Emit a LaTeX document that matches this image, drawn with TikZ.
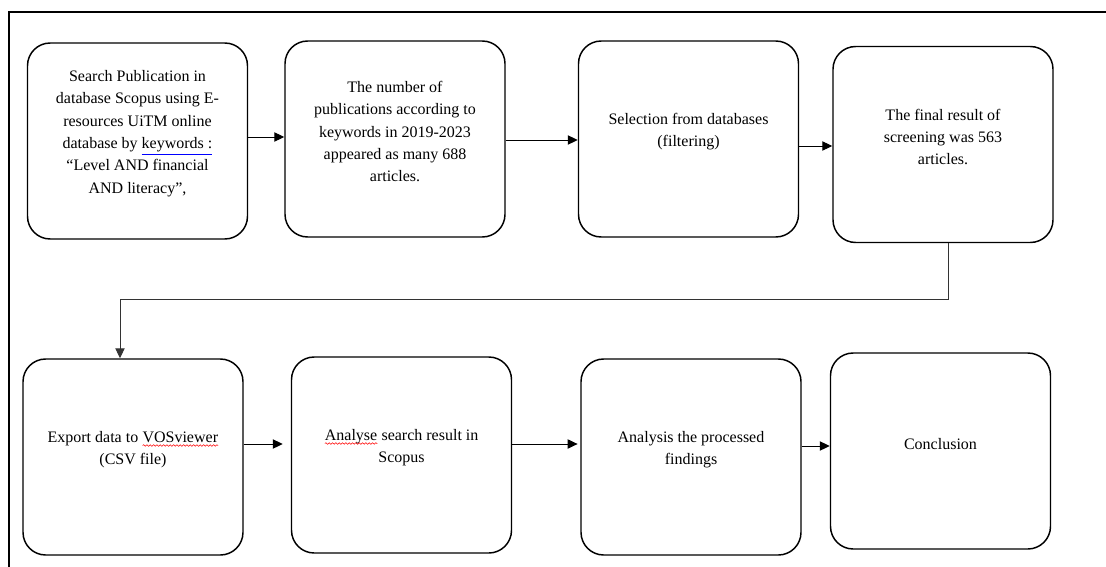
\documentclass[tikz,border=0pt]{standalone}
\usepackage{fontspec}
\setmainfont{Liberation Serif}
\usetikzlibrary{arrows.meta, decorations.pathmorphing}
\newcommand\blueline[1]{\textcolor{blue}{\underline{\textcolor{black}{#1}}}}
\newcommand\redwave[1]{\tikz[baseline=(w.base), x=1cm, y=1cm]{%
  \node[inner sep=0pt, outer sep=0pt] (w) {#1};
  \draw[red, line width=0.4pt, decorate,
    decoration={snake, amplitude=0.6pt, segment length=2.5pt}]
    ([yshift=-2.5pt]w.base west) -- ([yshift=-2.5pt]w.base east);}}
\tikzset{
  >={Triangle[length=7.5pt,width=7pt]},
  box/.style={draw, line width=1.1pt, rounded corners=17pt,
    minimum width=165pt, minimum height=147pt},
  txt/.style={align=center, font=\fontsize{12}{16.8}\selectfont},
  flow/.style={->, line width=0.75pt},
}

\begin{document}
\begin{tikzpicture}[x=0.75pt, y=-0.75pt]
  \useasboundingbox (0,0) rectangle (1106,567);
  % frame
  \draw[line width=1.5pt] (9,567) -- (9,12) -- (1106,12);

  % first row
  \node[box] (b1) at (137.5,141) {};
  \node[box] (b2) at (395,139) {};
  \node[box] (b3) at (688.5,139) {};
  \node[box] (b4) at (943,144.5) {};
  \node[txt] (t1) at ([yshift=5.6pt]b1.center) {Search Publication in\\database Scopus using E-\\resources UiTM online\\database by \blueline{keywords :}\\“Level AND financial\\AND literacy”,};
  \node[txt] (t2) at ([yshift=5.6pt]b2.center) {The number of\\publications according to\\keywords in 2019-2023\\appeared as many 688\\articles.};
  \node[txt] (t3) at ([yshift=5.6pt]b3.center) {Selection from databases\\(filtering)};
  \node[txt] (t4) at ([yshift=5.6pt]b4.center) {The final result of\\screening was 563\\articles.};

  % second row
  \node[box] (b5) at (133,457) {};
  \node[box] (b6) at (401.5,455) {};
  \node[box] (b7) at (691,457) {};
  \node[box] (b8) at (940.5,451) {};
  \node[txt] (t5) at ([yshift=5.6pt]b5.center) {Export data to \redwave{VOSviewer}\\(CSV file)};
  \node[txt] (t6) at ([yshift=5.6pt]b6.center) {\redwave{Analyse} search result in\\Scopus};
  \node[txt] (t7) at ([yshift=5.6pt]b7.center) {Analysis the processed\\findings};
  \node[txt] (t8) at ([yshift=5.6pt]b8.center) {Conclusion};

  % connectors
  \draw[flow] (b1.east |- 0,137) -- (b2.west |- 0,137);
  \draw[flow] (b2.east |- 0,140) -- (b3.west |- 0,140);
  \draw[flow] (b3.east |- 0,146) -- (b4.west |- 0,146);
  \coordinate (turnA) at (948,299);
  \coordinate (turnB) at (120,299);
  \draw[flow, black!80] (b4.south -| turnA) -- (turnA) -- (turnB) -- (b5.north -| turnB);
  \draw[flow, shorten >=6pt] (b5.east |- 0,444) -- (b6.west |- 0,444);
  \draw[flow, shorten >=2pt] (b6.east |- 0,444) -- (b7.west |- 0,444);
  \draw[flow] (b7.east |- 0,446) -- (b8.west |- 0,446);
\end{tikzpicture}
\end{document}
